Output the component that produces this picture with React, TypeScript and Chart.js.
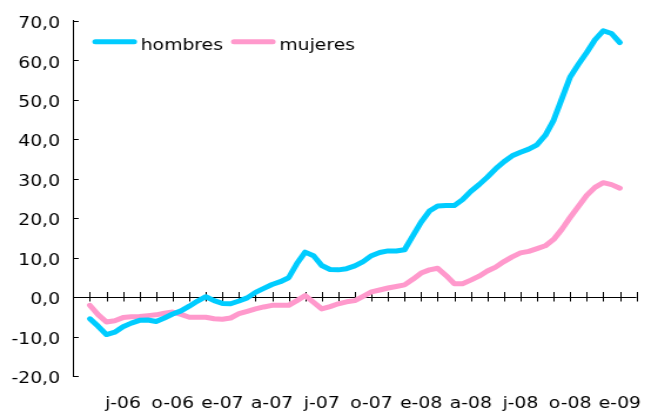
import React, { useEffect, useRef } from 'react';
import { Chart, registerables } from 'chart.js';

Chart.register(...registerables);

// Month index 0 = abr-06 (the y axis); quarterly labels sit at months 3, 6, ..., 33
const quarterLabels = ['j-06', 'o-06', 'e-07', 'a-07', 'j-07', 'o-07', 'e-08', 'a-08', 'j-08', 'o-08', 'e-09'];
const monthCount = 34; // abr-06 .. feb-09
const firstMonth = 1; // may-06
const step = 0.5; // half-month readings

// tasa de variación (%), readings every half month from may-06 to ene-09
const hombres = [
  -5.5, -7.4, -9.5, -8.9, -7.5, -6.6, -5.9, -5.8, -6.2, -5.3,
  -4.3, -3.5, -2.3, -1.0, 0.1, -0.9, -1.6, -1.7, -1.0, -0.2,
  1.2, 2.2, 3.2, 3.9, 4.9, 8.5, 11.4, 10.5, 8.0, 7.0,
  6.9, 7.2, 7.9, 9.0, 10.5, 11.3, 11.7, 11.7, 12.0, 15.5,
  19.0, 21.8, 23.1, 23.2, 23.2, 24.7, 26.8, 28.5, 30.4, 32.5,
  34.3, 35.8, 36.7, 37.5, 38.6, 41.0, 44.8, 50.3, 55.8, 59.0,
  62.0, 65.2, 67.5, 66.8, 64.5,
];
const mujeres = [
  -2.1, -4.5, -6.3, -6.0, -5.2, -5.0, -4.9, -4.7, -4.5, -4.1,
  -3.8, -4.4, -5.1, -5.1, -5.1, -5.5, -5.6, -5.3, -4.2, -3.6,
  -3.0, -2.5, -2.1, -2.1, -2.1, -0.9, 0.4, -1.3, -3.0, -2.4,
  -1.7, -1.2, -0.9, 0.2, 1.3, 1.8, 2.3, 2.7, 3.1, 4.5,
  6.1, 6.9, 7.3, 5.5, 3.4, 3.4, 4.3, 5.3, 6.6, 7.6,
  9.0, 10.2, 11.2, 11.6, 12.3, 13.0, 14.6, 17.2, 20.2, 23.0,
  25.8, 27.8, 29.0, 28.5, 27.6,
];
const yMin = -20;
const yMax = 70;
const yStep = 10;

const FONT = 'DejaVu Sans';
const INNER_W = 560;
const OUTER_W = 658;
const H = 411;

const axisMarks = {
  id: 'axisMarks',
  beforeDatasetsDraw(chart: any) {
    const { ctx, chartArea, scales } = chart;
    const x = scales.x;
    const y = scales.y;
    const y0 = Math.round(y.getPixelForValue(0));
    ctx.save();
    ctx.strokeStyle = '#000';
    ctx.lineWidth = 1;
    ctx.beginPath();
    x.ticks.forEach((t: any) => {
      if (t.value <= x.min) return;
      const px = Math.round(x.getPixelForValue(t.value)) + 0.5;
      ctx.moveTo(px, y0 - 5);
      ctx.lineTo(px, y0 + 4.5);
    });
    y.ticks.forEach((t: any) => {
      const py = Math.round(y.getPixelForValue(t.value)) + 0.5;
      ctx.moveTo(chartArea.left, py);
      ctx.lineTo(chartArea.left + 4.5, py);
    });
    ctx.stroke();
    ctx.restore();
  },
};

const inlineLegend = {
  id: 'inlineLegend',
  afterDatasetsDraw(chart: any) {
    const { ctx } = chart;
    let x = 81.1;
    const lineY = 41.7;
    const baseY = 50;
    ctx.save();
    ctx.font = `16px "${FONT}"`;
    ctx.textBaseline = 'alphabetic';
    ctx.textAlign = 'left';
    chart.data.datasets.forEach((ds: any) => {
      ctx.strokeStyle = ds.borderColor;
      ctx.lineWidth = ds.borderWidth;
      ctx.lineCap = 'round';
      ctx.beginPath();
      ctx.moveTo(x, lineY);
      ctx.lineTo(x + 33, lineY);
      ctx.stroke();
      const tx = x + 33 + 5.6;
      ctx.fillStyle = '#000';
      ctx.fillText(ds.label, tx, baseY);
      x = tx + ctx.measureText(ds.label).width + 9.3;
    });
    ctx.restore();
  },
};

export default function App() {
  const ref = useRef<HTMLCanvasElement>(null);
  useEffect(() => {
    const canvas = ref.current!;
    const toPoints = (arr: number[]) => arr.map((v, k) => ({ x: firstMonth + k * step, y: v }));
    const chart = new Chart(canvas, {
      type: 'line',
      data: {
        datasets: [
          {
            label: 'hombres',
            data: toPoints(hombres),
            borderColor: '#00CCFF',
            backgroundColor: '#00CCFF',
            borderWidth: 5,
            pointRadius: 0,
            borderCapStyle: 'round',
            borderJoinStyle: 'round',
            tension: 0,
            xAxisID: 'x',
            yAxisID: 'y',
          },
          {
            label: 'mujeres',
            data: toPoints(mujeres),
            borderColor: '#FF99CC',
            backgroundColor: '#FF99CC',
            borderWidth: 5,
            pointRadius: 0,
            borderCapStyle: 'round',
            borderJoinStyle: 'round',
            tension: 0,
            xAxisID: 'x',
            yAxisID: 'y',
          },
        ],
      },
      options: {
        responsive: false,
        animation: false,
        devicePixelRatio: 1,
        layout: { padding: { top: 20.5, right: 5.1, left: 0, bottom: 0 } },
        plugins: {
          legend: { display: false },
          tooltip: { enabled: false },
        },
        scales: {
          x: {
            type: 'linear',
            min: 0,
            max: monthCount,
            afterFit: (s: any) => {
              s.height = 35;
            },
            grid: { display: false, drawTicks: false },
            border: { display: false },
            ticks: {
              stepSize: 1,
              autoSkip: false,
              maxRotation: 0,
              minRotation: 0,
              padding: 18.4,
              color: '#000',
              font: { family: FONT, size: 16 },
              callback: (v: any) => {
                const n = Number(v);
                if (Number.isInteger(n) && n >= 3 && n % 3 === 0) return quarterLabels[n / 3 - 1] ?? '';
                return '';
              },
            },
          },
          y: {
            min: yMin,
            max: yMax,
            afterFit: (s: any) => {
              s.width = 62.4;
            },
            grid: {
              drawTicks: false,
              lineWidth: 1,
              color: (c: any) => (c.tick && c.tick.value === 0 ? '#000' : 'rgba(0,0,0,0)'),
            },
            border: { display: true, color: '#000', width: 1 },
            ticks: {
              stepSize: yStep,
              padding: 11.3,
              labelOffset: 3,
              color: '#000',
              font: { family: FONT, size: 16 },
              callback: (v: any) => Number(v).toFixed(1).replace('.', ','),
            },
          },
        },
      } as any,
      plugins: [axisMarks, inlineLegend],
    });
    return () => chart.destroy();
  }, []);
  return (
    <div style={{ position: 'absolute', left: 0, top: 0, width: OUTER_W, height: H }}>
      <canvas
        ref={ref}
        width={INNER_W}
        height={H}
        style={{ width: `${OUTER_W}px`, height: `${H}px`, display: 'block' }}
      />
    </div>
  );
}
